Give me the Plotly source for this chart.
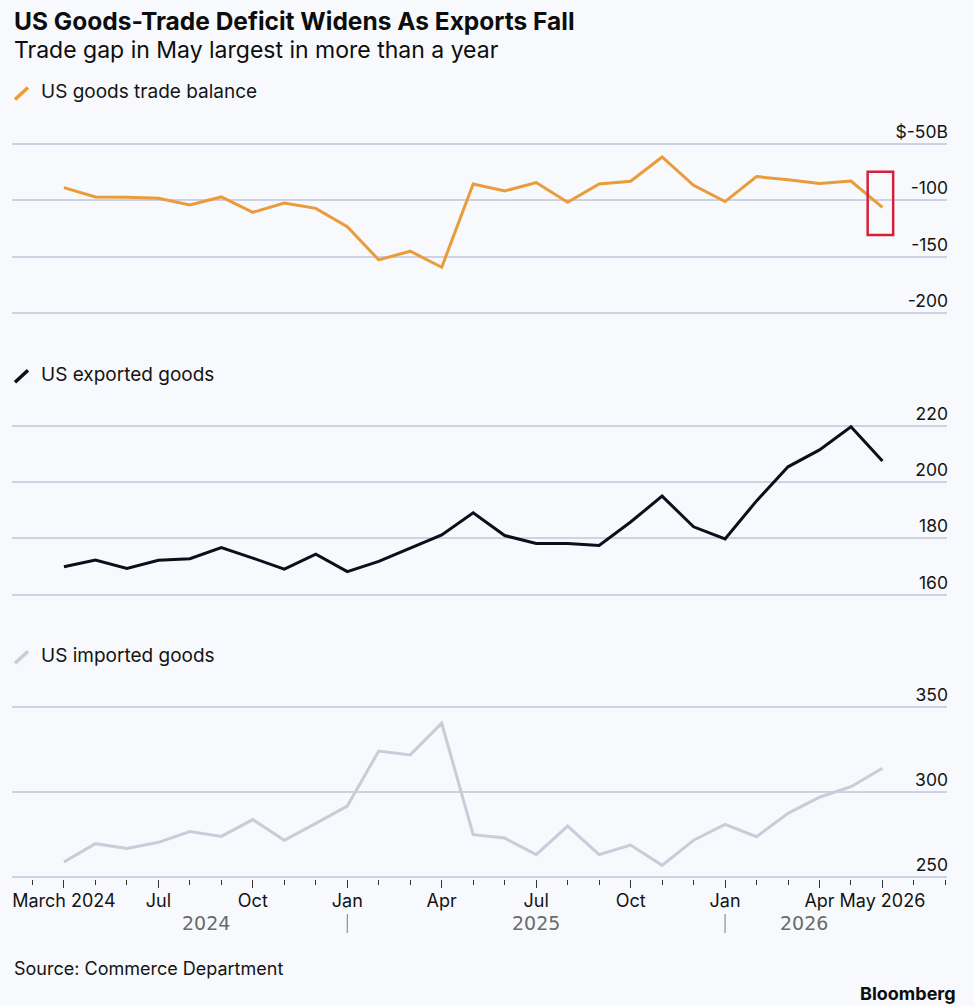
import plotly.graph_objects as go
from plotly.subplots import make_subplots

# monthly values, $ billions
trade_balance = [-88.7, -97.0, -97.2, -98.1, -104.0, -96.9, -110.5, -102.3, -107.0,
                 -123.2, -152.7, -145.0, -159.2, -85.4, -91.6, -84.2, -101.7, -85.4,
                 -83.0, -61.5, -86.6, -101.0, -78.9, -81.6, -85.1, -82.8, -106.1]
exports = [169.9, 172.3, 169.3, 172.2, 172.8, 176.7, 173.0, 169.1, 174.4,
           168.2, 171.8, 176.6, 181.2, 189.1, 181.0, 178.2, 178.2, 177.5,
           185.8, 195.0, 184.1, 179.8, 193.3, 205.4, 211.4, 219.6, 207.5]
imports = [258.7, 269.5, 266.7, 270.3, 276.6, 273.8, 283.7, 271.5, 281.5,
           291.7, 324.2, 321.9, 340.6, 274.8, 272.8, 263.0, 279.9, 263.0,
           268.7, 256.7, 271.5, 280.9, 273.6, 287.4, 296.9, 303.1, 314.0]
months = list(range(len(trade_balance)))

tick_pos = [0, 3, 6, 9, 12, 15, 18, 21, 24, 26]
tick_text = ["March 2024", "Jul", "Oct", "Jan", "Apr", "Jul", "Oct", "Jan", "Apr", "May 2026"]
year_pos = [4.5, 15, 23.5]
year_text = ["2024", "2025", "2026"]
year_breaks = [9, 21]

series_names = ["US goods trade balance", "US exported goods", "US imported goods"]
series_colors = ["#EA9B3A", "#0B0F1C", "#C9CDD9"]

W, H = 974, 1006
BG = "#F7F9FC"
GRID = "#CDD3E2"
FONT = "Inter, Liberation Sans, Arial, sans-serif"
INK = "#141414"


def px(x):
    return x / W


def py(y):
    return 1 - y / H


def panel(lo, hi, y_lo, y_hi, pad):
    # pad the range a little so the edge gridlines still get drawn
    k = (y_lo - y_hi) / (hi - lo)
    dom = [py(y_lo + pad * k), py(y_hi - pad * k)]
    return dom, [lo - pad, hi + pad]


fig = make_subplots(rows=3, cols=1, shared_xaxes=True)

for i, vals in enumerate([trade_balance, exports, imports]):
    fig.add_trace(go.Scatter(x=months, y=vals, mode="lines", name=series_names[i],
                             line=dict(color=series_colors[i], width=3)),
                  row=i + 1, col=1)

x_dom = [px(12), px(947)]
x_rng = [-1.65, 28.05]
for r in (1, 2, 3):
    fig.update_xaxes(domain=x_dom, range=x_rng, showgrid=False, zeroline=False,
                     showticklabels=False, ticks="", automargin=False, row=r, col=1)

fig.update_xaxes(tickmode="array", tickvals=tick_pos, ticktext=tick_text, showticklabels=True,
                 ticks="outside", ticklen=8, tickwidth=1.3, tickcolor="#333333",
                 ticklabelstandoff=-3,
                 tickfont=dict(size=18, color=INK, family=FONT),
                 minor=dict(tick0=0, dtick=1, ticks="outside", ticklen=5, tickwidth=1.2,
                            tickcolor="#333333", showgrid=False),
                 row=3, col=1)

y_setup = [
    (panel(-200, -50, 313.3, 144.0, 2), [-50, -100, -150, -200], ["$-50B", "-100", "-150", "-200"]),
    (panel(160, 220, 594.7, 425.7, 0.8), [220, 200, 180, 160], ["220", "200", "180", "160"]),
    (panel(250, 350, 876.7, 707.3, 1.3), [350, 300, 250], ["350", "300", "250"]),
]
for r, ((dom, rng), tv, tt) in enumerate(y_setup, start=1):
    fig.update_yaxes(domain=dom, range=rng, tickmode="array", tickvals=tv, ticktext=tt,
                     side="right", ticklabelposition="inside top", ticklabeloverflow="allow",
                     ticklabelstandoff=-4,
                     showgrid=True, gridcolor=GRID, gridwidth=1.5, zeroline=False,
                     ticks="", automargin=False,
                     tickfont=dict(size=17.5, color=INK, family=FONT),
                     row=r, col=1)

# red highlight box around the latest reading
fig.add_shape(type="rect", xref="x", yref="y", x0=25.53, x1=26.34, y0=-130.7, y1=-74.6,
              line=dict(color="#D3203B", width=2.5), fillcolor="rgba(0,0,0,0)")

# year row under the month labels
for pos, txt in zip(year_pos, year_text):
    fig.add_annotation(x=pos, y=py(923), xref="x3", yref="paper", text=txt, showarrow=False,
                       xanchor="center", yanchor="middle",
                       font=dict(size=19, color="#6B6B6B", family="DejaVu Sans, sans-serif"))
for pos in year_breaks:
    fig.add_shape(type="line", xref="x3", yref="paper", x0=pos, x1=pos, y0=py(933), y1=py(914),
                  line=dict(color="#7A7A7A", width=1))

# legend rows above each panel
legend_y = [91.5, 374.3, 655.3]
for name, color, ly in zip(series_names, series_colors, legend_y):
    fig.add_shape(type="line", xref="paper", yref="paper", x0=px(15), x1=px(28),
                  y0=py(ly + 8), y1=py(ly - 4), line=dict(color=color, width=3.5))
    fig.add_annotation(x=px(39), y=py(ly), xref="paper", yref="paper", text=name,
                       showarrow=False, xanchor="left", yanchor="middle",
                       font=dict(size=19, color=INK, family=FONT))

fig.add_annotation(x=px(12), y=py(21.5), xref="paper", yref="paper",
                   text="<b>US Goods-Trade Deficit Widens As Exports Fall</b>",
                   showarrow=False, xanchor="left", yanchor="middle",
                   font=dict(size=24.5, color="#0D0D0D", family=FONT))
fig.add_annotation(x=px(12), y=py(50.5), xref="paper", yref="paper",
                   text="Trade gap in May largest in more than a year",
                   showarrow=False, xanchor="left", yanchor="middle",
                   font=dict(size=23, color="#0D0D0D", family=FONT))
fig.add_annotation(x=px(12), y=py(968), xref="paper", yref="paper",
                   text="Source: Commerce Department",
                   showarrow=False, xanchor="left", yanchor="middle",
                   font=dict(size=18, color=INK, family=FONT))
fig.add_annotation(x=px(958), y=py(993), xref="paper", yref="paper",
                   text="<b>Bloomberg</b>",
                   showarrow=False, xanchor="right", yanchor="middle",
                   font=dict(size=18, color="#0D0D0D", family=FONT))

fig.update_layout(width=W, height=H, margin=dict(l=0, r=0, t=0, b=0, autoexpand=False),
                  paper_bgcolor=BG, plot_bgcolor=BG, showlegend=False,
                  font=dict(family=FONT))

# the page's default body margin would push the figure 8px in
fig.write_html("out.html", config={"displayModeBar": False},
               post_script="document.body.style.margin = '0';")
